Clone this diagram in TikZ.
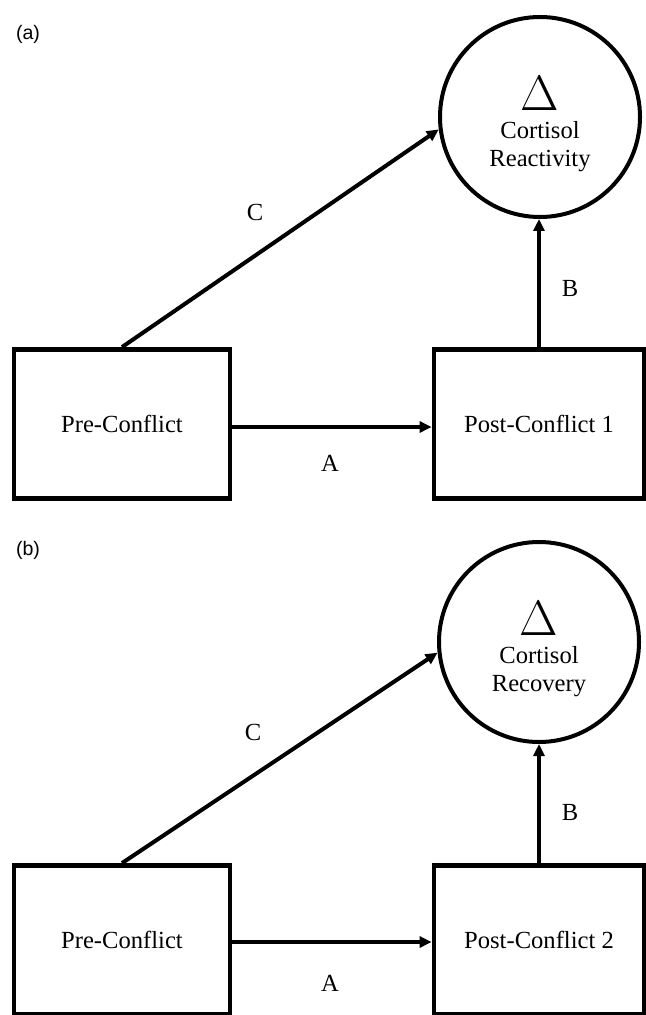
\documentclass[tikz,border=0pt]{standalone}
\usepackage{fontspec}
\setmainfont{Liberation Serif}
\newfontfamily\panelfont{Liberation Sans}
\usetikzlibrary{arrows.meta}

\tikzset{
  box/.style={draw, line width=2.4pt, minimum width=108pt, minimum height=74.5pt, inner sep=0pt},
  postbox/.style={box, minimum width=105pt},
  circ/.style={draw, circle, line width=2pt, minimum size=100pt, inner sep=0pt, align=center},
  link/.style={line width=2pt, -{Triangle[length=6pt,width=5.5pt]}},
  tag/.style={font=\panelfont\fontsize{9.8}{11}\selectfont}
}
\newcommand{\dlt}{\rule{0pt}{24pt}{\fontsize{24}{24}\selectfont$\Delta$}}

\begin{document}
\begin{tikzpicture}[x=0.5pt,y=-0.5pt,font=\fontsize{12.3}{14}\selectfont]
\useasboundingbox (0,0) rectangle (646,1015);

% (a) reactivity
\node[tag] (taga) at (28,34) {(a)};
\node[box] (prea) at (122,424) {Pre-Conflict};
\node[postbox] (posta) at (539,424) {Post-Conflict 1};
\node[circ] (cra) at (540,117) {\dlt\\Cortisol\\Reactivity};

\draw[link] ([yshift=-1.5pt]prea.east) -- ([yshift=-1.5pt]posta.west);
\draw[link] (prea.north) -- (cra.187);
\draw[link] (posta.north) -- (posta.north |- cra.south);

\node (aa) at (330,463) {A};
\node (ba) at (570,288) {B};
\node (ca) at (255,212) {C};

% (b) recovery
\node[tag] (tagb) at (28,550) {(b)};
\node[box] (preb) at (122,940) {Pre-Conflict};
\node[postbox] (postb) at (539,940) {Post-Conflict 2};
\node[circ] (crb) at (539,642) {\dlt\\Cortisol\\Recovery};

\draw[link] ([yshift=-1pt]preb.east) -- ([yshift=-1pt]postb.west);
\draw[link] (preb.north) -- (crb.186);
\draw[link] (postb.north) -- (postb.north |- crb.south);

\node (ab) at (330,983) {A};
\node (bb) at (570,812) {B};
\node (cb) at (253,732) {C};
\end{tikzpicture}
\end{document}
